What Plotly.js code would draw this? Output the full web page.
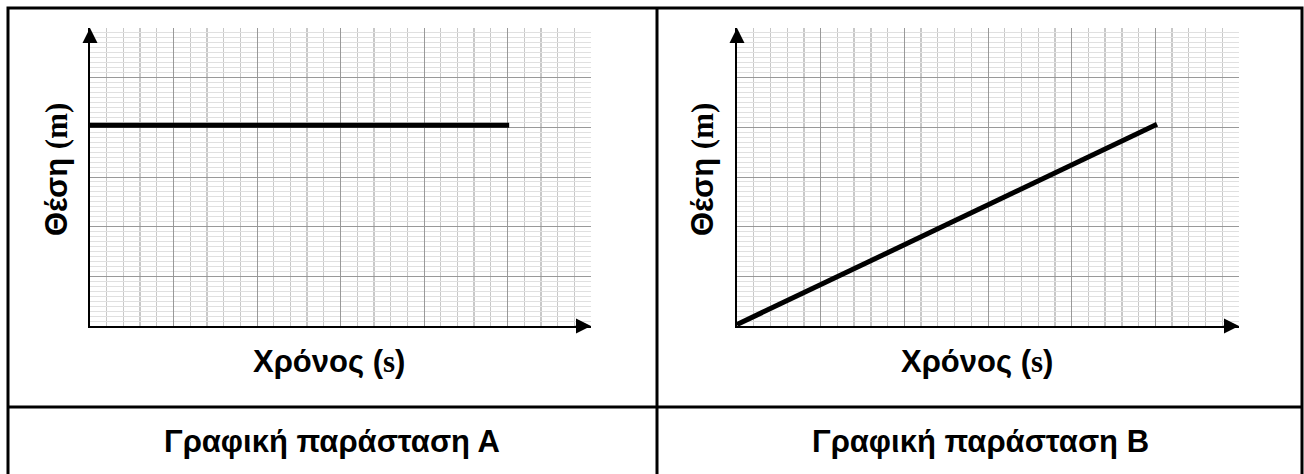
<!DOCTYPE html>
<html lang="el">
<head>
<meta charset="UTF-8">
<title>Γραφικές παραστάσεις θέσης - χρόνου</title>
<script src="https://cdn.plot.ly/plotly-3.0.1.min.js"></script>
<style>
    body { margin: 0; background: white; }
    #plot { width: 1304px; height: 474px; }
</style>
</head>
<body>
<div id="plot"></div>
<script>
    // Data (x in major grid squares of time, y in squares of position)
    const timeA = [0, 5.02];
    const positionA = [4.04, 4.04];
    const timeB = [0, 5.02];
    const positionB = [0.03, 4.06];

    const axisRange = [0, 6];
    const panelTitles = ['Γραφική παράσταση Α', 'Γραφική παράσταση Β'];
    const xTitle = 'Χρόνος (<span style="font-family:Liberation Serif">s</span>)';
    const yTitle = 'Θέση <span style="font-family:Liberation Serif">(m)</span>';

    const W = 1304, H = 474;
    const px = x => x / W;
    const py = y => 1 - y / H;

    function xAxis(domain, anchor) {
        return {
            domain: domain, anchor: anchor, range: axisRange,
            dtick: 1, tick0: 0, showticklabels: false, ticks: '',
            showgrid: true, gridcolor: '#999999', gridwidth: 1,
            minor: {dtick: 0.2, showgrid: true, gridcolor: '#c8c8c8', gridwidth: 1.3},
            zeroline: false, showline: true, linecolor: 'black', linewidth: 2,
            fixedrange: true
        };
    }
    function yAxis(domain, anchor) {
        return {
            domain: domain, anchor: anchor, range: axisRange,
            dtick: 1, tick0: 0, showticklabels: false, ticks: '',
            showgrid: true, gridcolor: '#999999', gridwidth: 1,
            minor: {dtick: 0.1, showgrid: true, gridcolor: '#e0e0e0', gridwidth: 1},
            zeroline: false, showline: true, linecolor: 'black', linewidth: 2,
            fixedrange: true
        };
    }

    const traces = [
        {x: timeA, y: positionA, xaxis: 'x', yaxis: 'y', type: 'scatter', mode: 'lines',
         line: {color: 'black', width: 5}, hoverinfo: 'skip'},
        {x: timeB, y: positionB, xaxis: 'x2', yaxis: 'y2', type: 'scatter', mode: 'lines',
         line: {color: 'black', width: 5}, hoverinfo: 'skip'}
    ];

    const yDomain = [py(326), py(28)];
    const textFont = {family: 'Liberation Sans, Arial, sans-serif', size: 31, color: 'black', weight: 'bold'};

    const annotations = [];
    [['x', 'y', 56, 329, 332], ['x2', 'y2', 702, 977, 980]].forEach(([xa, ya, yTitleX, xTitleX, captionX], i) => {
        // axis arrows
        annotations.push({xref: xa, yref: ya, axref: xa, ayref: ya,
            x: axisRange[0], y: axisRange[1], ax: axisRange[0], ay: axisRange[1] - 0.3,
            text: '', showarrow: true, arrowhead: 2, arrowsize: 1.5, arrowwidth: 2, arrowcolor: 'black'});
        annotations.push({xref: xa, yref: ya, axref: xa, ayref: ya,
            x: axisRange[1], y: axisRange[0], ax: axisRange[1] - 0.2, ay: axisRange[0],
            text: '', showarrow: true, arrowhead: 2, arrowsize: 1.5, arrowwidth: 2, arrowcolor: 'black'});
        // axis titles
        annotations.push({xref: 'paper', yref: 'paper', x: px(xTitleX), y: py(361),
            text: '<b>' + xTitle + '</b>', showarrow: false, font: textFont,
            xanchor: 'center', yanchor: 'middle'});
        annotations.push({xref: 'paper', yref: 'paper', x: px(yTitleX), y: py(170),
            text: '<b>' + yTitle + '</b>', showarrow: false, font: textFont, textangle: -90,
            xanchor: 'center', yanchor: 'middle'});
        // panel captions
        annotations.push({xref: 'paper', yref: 'paper', x: px(captionX), y: py(441),
            text: '<b>' + panelTitles[i] + '</b>', showarrow: false, font: textFont,
            xanchor: 'center', yanchor: 'middle'});
    });

    const border = {color: 'black', width: 3};
    const shapes = [
        {type: 'rect', xref: 'paper', yref: 'paper', x0: px(8), x1: px(1302), y0: py(490), y1: py(8), line: border},
        {type: 'line', xref: 'paper', yref: 'paper', x0: px(657), x1: px(657), y0: py(490), y1: py(8), line: border},
        {type: 'line', xref: 'paper', yref: 'paper', x0: px(8), x1: px(1302), y0: py(407), y1: py(407), line: border}
    ];

    const layout = {
        width: W, height: H,
        margin: {t: 0, r: 0, b: 0, l: 0},
        paper_bgcolor: 'white', plot_bgcolor: 'white',
        showlegend: false,
        xaxis: xAxis([px(90), px(591)], 'y'),
        yaxis: yAxis(yDomain, 'x'),
        xaxis2: xAxis([px(737), px(1239)], 'y2'),
        yaxis2: yAxis(yDomain, 'x2'),
        annotations: annotations,
        shapes: shapes
    };

    Plotly.newPlot('plot', traces, layout, {displayModeBar: false, staticPlot: true});
</script>
</body>
</html>
